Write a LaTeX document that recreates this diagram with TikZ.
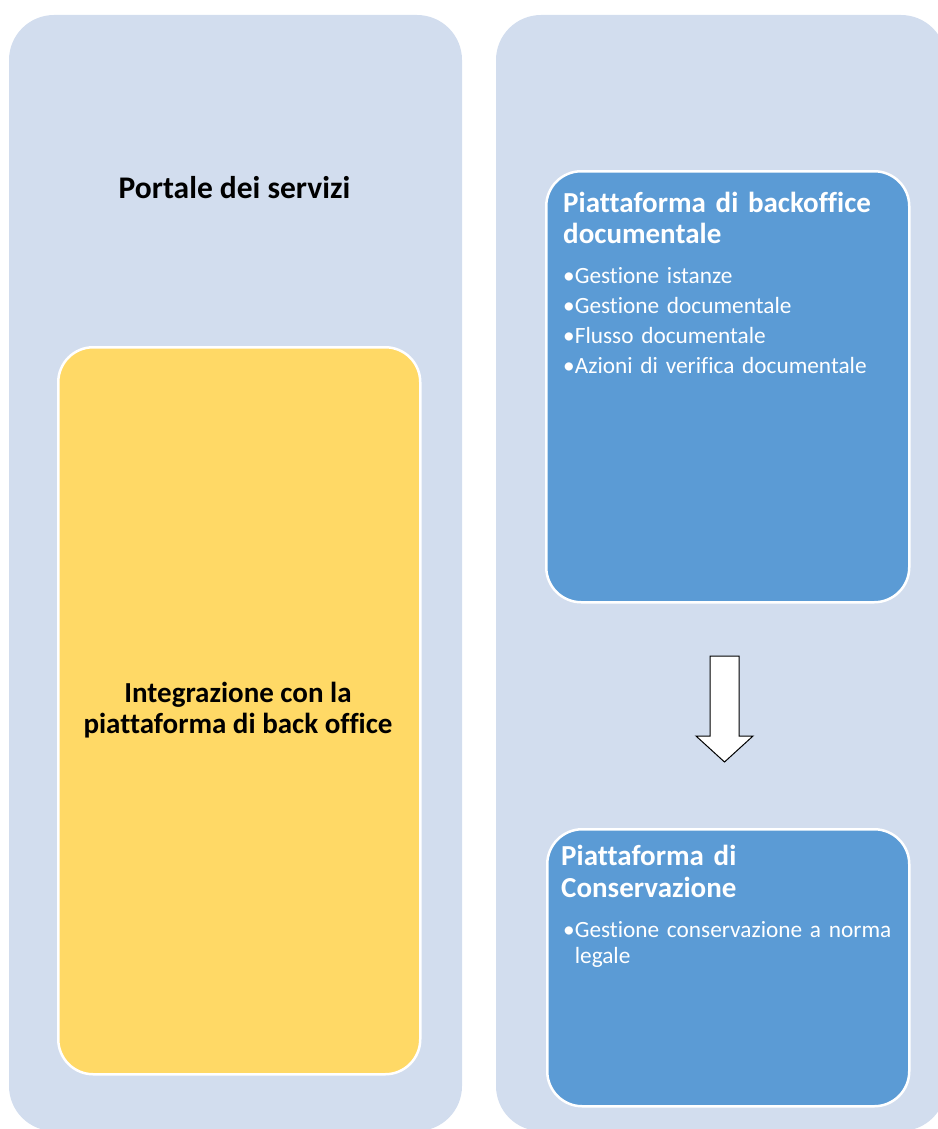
\documentclass[tikz,border=0pt]{standalone}
\usepackage{fontspec}
\setmainfont{Carlito}[Ligatures={NoCommon}]
\usepackage{xcolor}
\usepackage{tikz}
\definecolor{panelbg}{HTML}{D2DDEE}
\definecolor{boxblue}{HTML}{5B9BD5}
\definecolor{boxgold}{HTML}{FFD966}

\begin{document}
\begin{tikzpicture}[x=1pt,y=-1pt,
		panel/.style={fill=panelbg, rounded corners=45pt},
		card/.style={draw=white, line width=2.5pt, rounded corners=35pt, inner sep=0pt, anchor=north west},
		cardtitle/.style={text=white, font=\fontsize{29}{31}\selectfont\bfseries, inner sep=0pt, anchor=base west, text width=340pt, align=left},
		cardlist/.style={text=white, font=\fontsize{23.3}{30}\selectfont, inner sep=0pt, anchor=base west, text width=340pt, align=left},
		plaintitle/.style={font=\fontsize{29}{31}\selectfont\bfseries, inner sep=0pt, anchor=base, align=center}]
	\useasboundingbox (0,0) rectangle (937,1129);
	\fill[panel] (9,15) rectangle (462,1131);
	\fill[panel] (496,15) rectangle (946,1131);
	\node[plaintitle, font=\fontsize{31.5}{33}\selectfont\bfseries] (portal) at (234.5,198) {Portale dei servizi};
	\node[card, fill=boxgold, minimum width=362pt, minimum height=727pt] (integr) at (57,346) {};
	\node[plaintitle] (integrtext) at (238,733) {Integrazione con la\\piattaforma di back office};
	\node[card, fill=boxblue, minimum width=363pt, minimum height=431pt] (backoffice) at (545,170) {};
	\node[cardtitle] (backofficetitle) at (563,212) {Piattaforma di backoffice\\documentale};
	\node[cardlist] (backofficelist) at (563,283) {•Gestione istanze\\•Gestione documentale\\•Flusso documentale\\•Azioni di verifica documentale};
	\node[card, fill=boxblue, minimum width=362pt, minimum height=277pt] (conserv) at (546,828) {};
	\node[cardtitle, font=\fontsize{29}{32}\selectfont\bfseries] (conservtitle) at (561,865) {Piattaforma di\\Conservazione};
	\node[cardlist, font=\fontsize{23.3}{26}\selectfont] (conservlist) at (563,937) {•Gestione conservazione a norma\\\phantom{•}legale};
	\coordinate (flowtop) at (724.5,656);
	\draw[fill=white, line width=1pt] (flowtop) ++(-14.5,0) -- ++(29,0) -- ++(0,80) -- ++(14,0) -- (724.5,762) -- (696,736) -- ++(14,0) -- cycle;
\end{tikzpicture}
\end{document}
